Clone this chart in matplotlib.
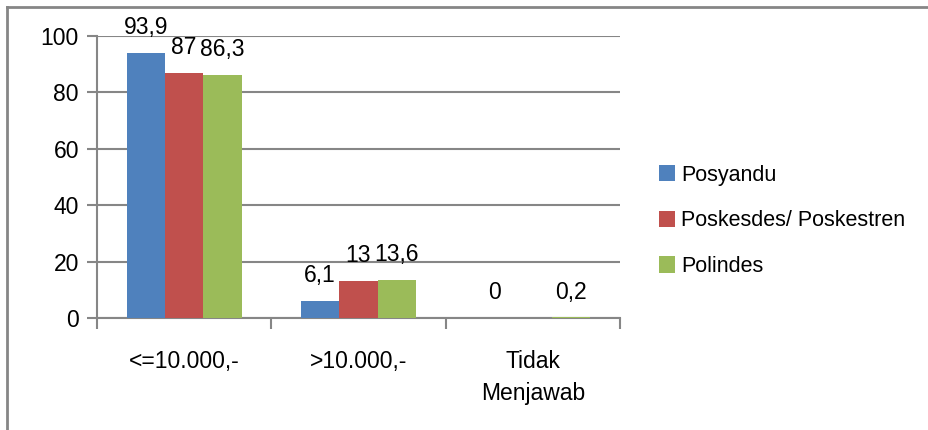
import matplotlib
matplotlib.use("Agg")
import matplotlib.pyplot as plt
import numpy as np
from matplotlib.lines import Line2D

plt.rcParams['font.family'] = ['Liberation Sans', 'DejaVu Sans']

categories = ["<=10.000,-", ">10.000,-", "Tidak\nMenjawab"]
series_names = ["Posyandu", "Poskesdes/ Poskestren", "Polindes"]
posyandu = [93.9, 6.1, 0]
poskesdes = [87, 13, np.nan]
polindes = [86.3, 13.6, 0.2]
colors = ["#4F81BD", "#C0504D", "#9BBB59"]
y_ticks = [0, 20, 40, 60, 80, 100]

FS = 16.5

fig = plt.figure(figsize=(9.29, 4.30), dpi=100)
ax = fig.add_axes([97/929, 1-318/430, (620-97)/929, (318-36)/430])

x = np.arange(len(categories))
w = 0.22
series = [posyandu, poskesdes, polindes]
for i, (vals, name, c) in enumerate(zip(series, series_names, colors)):
    pos = x + (i - 1) * w
    ax.bar(pos, vals, width=w, color=c, label=name, zorder=3)
    for p, v in zip(pos, vals):
        if np.isnan(v):
            continue
        lbl = ("%g" % v).replace(".", ",")
        ax.annotate(lbl, (p, v), xytext=(0, 10), textcoords="offset points",
                    ha="center", va="bottom", fontsize=FS, color="black")

ax.set_xlim(-0.5, len(categories) - 0.5)
ax.set_ylim(0, 100)
ax.set_yticks(y_ticks)
ax.set_yticklabels([str(t) for t in y_ticks], fontsize=FS)
ax.yaxis.grid(True, color="#868686", linewidth=1.5, zorder=0)
ax.set_axisbelow(True)

ax.set_xticks(x)
ax.set_xticklabels(categories, fontsize=FS, linespacing=1.5)
ax.tick_params(axis="x", length=0, pad=23)
ax.set_xticks(np.arange(len(categories) + 1) - 0.5, minor=True)
ax.tick_params(axis="x", which="minor", length=8, width=1.5, color="#868686", direction="out")
ax.tick_params(axis="y", length=7, width=1.5, color="#868686", pad=6)

for s in ["top", "right"]:
    ax.spines[s].set_visible(False)
for s in ["left", "bottom"]:
    ax.spines[s].set_color("#868686")
    ax.spines[s].set_linewidth(1.5)

fig.legend(loc="upper left", bbox_to_anchor=(650/929, 1-156/430), frameon=False,
           fontsize=15.5, handlelength=0.75, handleheight=0.8, handletextpad=0.3,
           labelspacing=1.15, borderaxespad=0)

# outer border (left and top)
fig.add_artist(Line2D([7/929, 7/929], [0, 1-7/430], transform=fig.transFigure,
                      color="#868686", linewidth=2))
fig.add_artist(Line2D([7/929, 1], [1-7/430, 1-7/430], transform=fig.transFigure,
                      color="#868686", linewidth=2))

fig.savefig("out.png", dpi=100)
